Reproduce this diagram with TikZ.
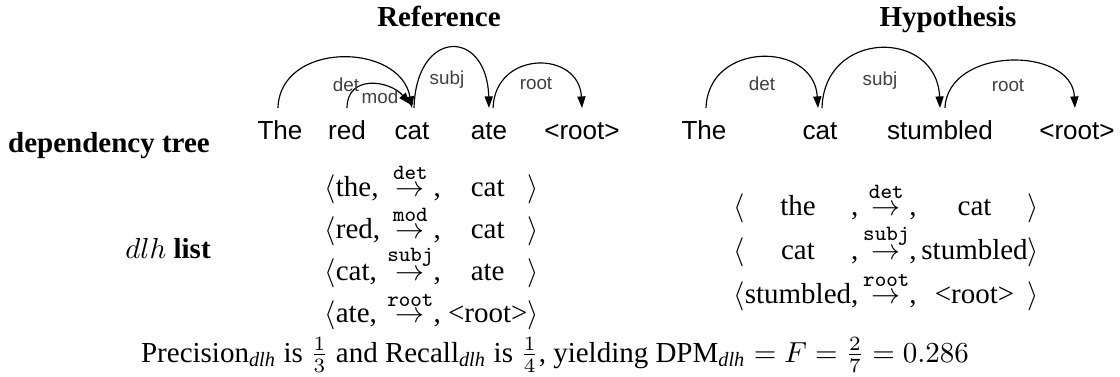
\documentclass[tikz,border=0pt]{standalone}
\usepackage{amsmath}
\usepackage{fontspec}
\setmainfont{Liberation Serif}
\setsansfont{Liberation Sans}
\usetikzlibrary{arrows.meta}
\newcommand{\relarrow}[1]{\smash{$\stackrel{\mbox{\fontsize{7.5}{8}\ttfamily #1}}{\rightarrow}$}}

\begin{document}
\begin{tikzpicture}
[x=0.345pt,y=-0.345pt,>={Triangle[length=4pt,width=2.8pt]},
 head/.style={font=\bfseries,inner sep=0pt,anchor=base},
 word/.style={font=\fontsize{9}{11}\sffamily,inner sep=0pt,anchor=base},
 rel/.style={font=\fontsize{6.5}{8}\sffamily,text=black!75,inner sep=0pt},
 arc/.style={->,line width=0.4pt},
 list/.style={inner sep=0pt,anchor=base west},]
\useasboundingbox (0,0) rectangle (1120,376);

\node[head] (refT) at (439,26) {Reference};
\node[head] (hypT) at (948,26) {Hypothesis};
\node[head] (deptree) at (109,152) {dependency tree};
\node[head] (dlhlist) at (168,258) {$dlh$ list};

% reference tree
\node[word] (rThe) at (280,139) {The};
\node[word] (rred) at (347,139) {red};
\node[word] (rcat) at (412,139) {cat};
\node[word] (rate) at (489,139) {ate};
\node[word] (rroot) at (582,139) {<root>};

\draw[arc] ([xshift=-0.7pt,yshift=10.7pt]rThe.base) .. controls +(2,-67) and +(-12,-66) .. ([yshift=10.7pt]rcat.base);
\draw[arc] ([yshift=10.7pt]rred.base) .. controls +(0,-34) and +(-20,-24) .. ([xshift=-0.7pt,yshift=12pt]rcat.base);
\draw[arc] ([xshift=0.7pt,yshift=10.7pt]rcat.base) .. controls +(2,-80) and +(-2,-80) .. ([yshift=10.7pt]rate.base);
\draw[arc] ([xshift=1.4pt,yshift=10.7pt]rate.base) .. controls +(2,-58) and +(-3,-58) .. ([yshift=10.7pt]rroot.base);

\node[rel] (rdet) at (346,85) {det};
\node[rel] (rmod) at (380,97) {mod};
\node[rel] (rsubj) at (447,80) {subj};
\node[rel] (rrootl) at (536,83) {root};

% hypothesis tree
\node[word] (hThe) at (704,139) {The};
\node[word] (hcat) at (820,139) {cat};
\node[word] (hstum) at (940,139) {stumbled};
\node[word] (hroot) at (1077,139) {<root>};

\draw[arc] ([xshift=0.7pt,yshift=10.7pt]hThe.base) .. controls +(2,-67) and +(-4,-67) .. ([xshift=-0.7pt,yshift=10.7pt]hcat.base);
\draw[arc] ([xshift=0.7pt,yshift=10.7pt]hcat.base) .. controls +(2,-79) and +(-3,-79) .. ([yshift=10.7pt]hstum.base);
\draw[arc] ([xshift=1.7pt,yshift=10.7pt]hstum.base) .. controls +(3,-62) and +(-3,-62) .. ([xshift=-0.7pt,yshift=10.7pt]hroot.base);

\node[rel] (hdet) at (762,84) {det};
\node[rel] (hsubj) at (880,81) {subj};
\node[rel] (hrootl) at (1008,85) {root};

% dlh lists
\node[list] (rlist) at (324,196) {\begin{tabular}[t]{@{}l@{\ }c@{,\ }c@{}c@{}}
$\langle$the, & \relarrow{det} & cat & $\rangle$\\[2.6pt]
$\langle$red, & \relarrow{mod} & cat & $\rangle$\\[2.6pt]
$\langle$cat, & \relarrow{subj} & ate & $\rangle$\\[2.6pt]
$\langle$ate, & \relarrow{root} & <root> & $\rangle$
\end{tabular}};
\node[list] (hlist) at (733,215) {\begin{tabular}[t]{@{}c@{}c@{,\,}c@{,\,}c@{}c@{}}
$\langle$ & the & \relarrow{det} & cat & $\rangle$\\[3.2pt]
$\langle$ & cat & \relarrow{subj} & stumbled & $\rangle$\\[3.2pt]
$\langle$ & stumbled & \relarrow{root} & <root> & $\rangle$
\end{tabular}};

\node[inner sep=0pt,anchor=base] (score) at (555,362) {Precision$_{\textit{dlh}}$ is $\frac{1}{3}$ and Recall$_{\textit{dlh}}$ is $\frac{1}{4}$, yielding DPM$_{\textit{dlh}}=F=\frac{2}{7}=0.286$};
\end{tikzpicture}
\end{document}
